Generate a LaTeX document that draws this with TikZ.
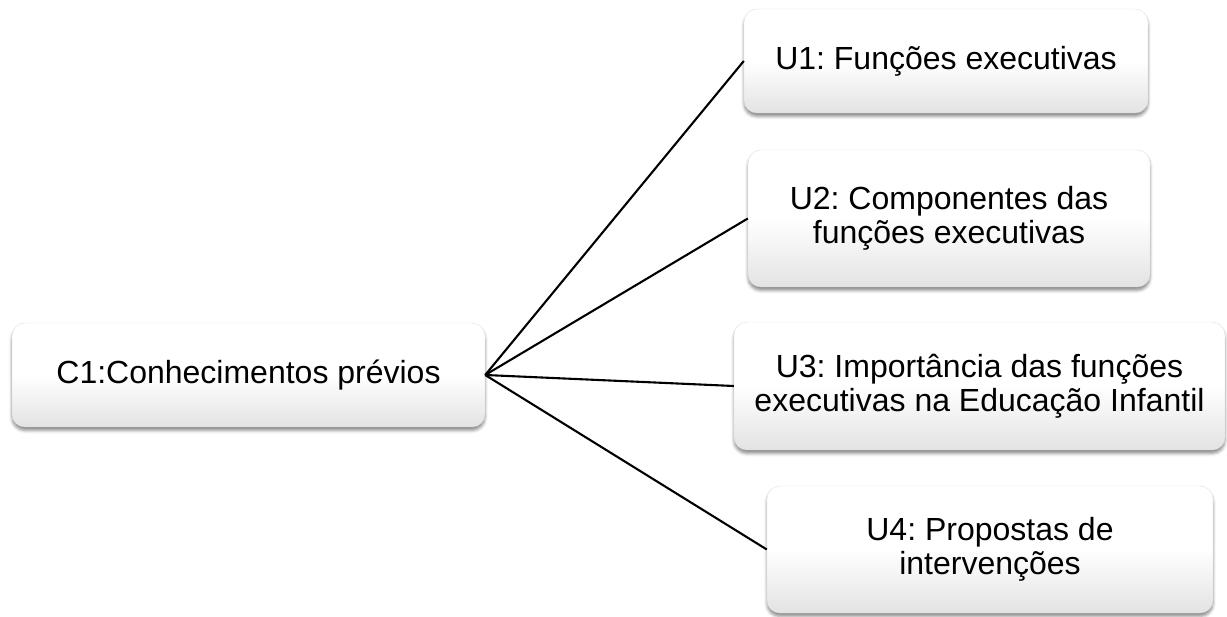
\documentclass[tikz,border=0pt]{standalone}
\usepackage{fontspec}
\setmainfont{Liberation Sans}
\usetikzlibrary{shadows.blur}
\frenchspacing

\tikzset{
  topic/.style={
    rounded corners=13pt,
    draw=black!12, line width=0.4pt,
    top color=white, bottom color=black!11, middle color=white,
    blur shadow={shadow xshift=0pt, shadow yshift=-3.5pt,
                 shadow blur radius=3pt, shadow opacity=45},
    align=center, inner sep=0pt,
    font=\fontsize{32}{34}\selectfont
  },
  link/.style={line width=2.1pt, black}
}

\begin{document}
\begin{tikzpicture}[x=1pt, y=-1pt]
  \useasboundingbox (0,0) rectangle (1227,617);

  % central concept
  \node[topic, minimum width=473pt, minimum height=104pt] (c1) at (248.5,375)
    {C1:Conhecimentos prévios};

  % units
  \node[topic, minimum width=404pt, minimum height=104pt] (u1) at (946,61)
    {U1: Funções executivas};
  \node[topic, minimum width=402pt, minimum height=137pt] (u2) at (949,218.5)
    {U2: Componentes das\\funções executivas};
  \node[topic, minimum width=491pt, minimum height=128pt] (u3) at (979.5,386)
    {U3: Importância das funções\\executivas na Educação Infantil};
  \node[topic, minimum width=446pt, minimum height=127pt] (u4) at (990,549.5)
    {U4: Propostas de\\intervenções};

  % connectors
  \draw[link] (c1.east) -- (u1.west);
  \draw[link] (c1.east) -- (u2.west);
  \draw[link] (c1.east) -- (u3.west);
  \draw[link] (c1.east) -- (u4.west);
\end{tikzpicture}
\end{document}
